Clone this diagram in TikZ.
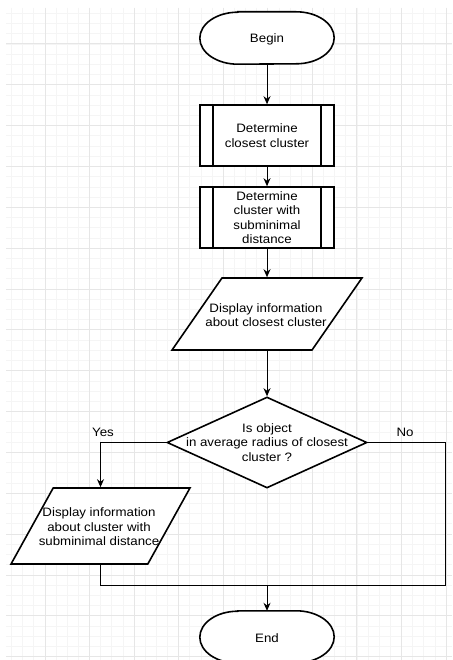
\documentclass[tikz,border=0pt]{standalone}
\usepackage{fontspec}
\setmainfont{Liberation Sans}[FakeStretch=1.09]
\usepackage{tikz}
\usetikzlibrary{positioning,arrows.meta,shapes.geometric}
\definecolor{colorwhite}     {RGB}{255,255,255}
\definecolor{colorblack}     {RGB}{  0,  0,  0}
\definecolor{colorgridminor} {RGB}{245,245,245}
\definecolor{colorgridmajor} {RGB}{230,230,230}

\begin{document}
\begin{tikzpicture}[
    x=1pt, y=-1pt,
    font={\fontsize{12.2}{14.5}\selectfont},
    gridminor/.style={colorgridminor,line width=0.8pt},
    gridmajor/.style={colorgridmajor,line width=1pt},
    terminal/.style={minimum width=134,minimum height=52,
        append after command={\pgfextra{
            \draw[colorblack,fill=colorwhite,line width=1.6pt]
            ([xshift=38pt]\tikzlastnode.north west) -- ([xshift=-38pt]\tikzlastnode.north east)
            arc[start angle=90,end angle=-90,x radius=38pt,y radius=26pt]
            -- ([xshift=38pt]\tikzlastnode.south west)
            arc[start angle=270,end angle=90,x radius=38pt,y radius=26pt] -- cycle;
        }}},
    process/.style={draw=colorblack,fill=colorwhite,line width=1.6pt,minimum width=134,minimum height=61,inner sep=1pt,align=center,
        path picture={
            \draw[line width=1.6pt] ([xshift=13pt]path picture bounding box.north west) -- ([xshift=13pt]path picture bounding box.south west);
            \draw[line width=1.6pt] ([xshift=-13pt]path picture bounding box.north east) -- ([xshift=-13pt]path picture bounding box.south east);
        }},
    io/.style={draw=colorblack,fill=colorwhite,line width=1.6pt,trapezium,trapezium stretches=true},
    decision/.style={draw=colorblack,fill=colorwhite,line width=1.6pt,diamond,minimum width=200,minimum height=91},
    code/.style={text=colorblack,align=center,inner sep=0pt},
    answer/.style={text=colorblack},
    flow/.style={colorblack,line width=1pt,-{Stealth[length=8pt,width=7pt]}},
    wire/.style={colorblack,line width=1pt},
]

    % Background grid
    \useasboundingbox (0,0) rectangle (452,660);
    \fill[colorwhite] (0,0) rectangle (452,660);
    \foreach \i in {-3,...,36} \draw[gridminor] ({45+11.14*\i},8) -- ({45+11.14*\i},660);
    \foreach \j in {-3,...,60} \draw[gridminor] (6,{44+10.21*\j}) -- (452,{44+10.21*\j});
    \foreach \i in {0,...,9} \draw[gridmajor] ({45+44.56*\i},8) -- ({45+44.56*\i},660);
    \foreach \j in {0,...,15} \draw[gridmajor] (6,{44+40.85*\j}) -- (452,{44+40.85*\j});

    % Begin
    \node[terminal] at (267,38) (start) {};
    \node[code] at (267,39) (starttext) {Begin};

    % Closest cluster
    \node[process] at (267,135.5) (closest) {Determine\\closest cluster};

    % Subminimal distance
    \node[process] at (267,217.5) (subminimal) {Determine\\cluster with\\subminimal\\distance};

    % Display closest
    \node[io,trapezium left angle=61,trapezium right angle=119,minimum width=190,minimum height=72] at (267,314) (showclosest) {};
    \node[code] at (266,315) (showclosesttext) {Display information\\about closest cluster};

    % Decision
    \node[decision] at (267,442.5) (decide) {};
    \node[code] at (267,442.5) (decidetext) {Is object\\in average radius of closest\\cluster ?};
    \node[answer] at (103,432) (yes) {Yes};
    \node[answer] at (405,432) (no) {No};

    % Display subminimal
    \node[io,trapezium left angle=66,trapezium right angle=114,minimum width=179,minimum height=76] at (100.5,526) (showsub) {};
    \node[code] at (99,527) (showsubtext) {Display information\\about cluster with\\subminimal distance};

    % End
    \node[terminal] at (267,637) (finish) {};
    \node[code] at (267,638) (finishtext) {End};

    % Arrows
    \coordinate (noturn) at (445,585);
    \coordinate (merge) at (267,585);
    \draw[flow] (start) -- (closest); % begin to closest
    \draw[flow] (closest) -- (subminimal); % closest to subminimal
    \draw[flow] (subminimal) -- (showclosest); % subminimal to display
    \draw[flow] (showclosest) -- (decide); % display to decision
    \draw[flow] (decide.west) -| (showsub.north); % yes branch
    \draw[wire] (decide.east) -| (noturn) -- (merge); % no branch
    \draw[wire] (showsub.south) |- (merge); % yes branch joins
    \draw[flow] (merge) -- (finish); % to end

\end{tikzpicture}
\end{document}
